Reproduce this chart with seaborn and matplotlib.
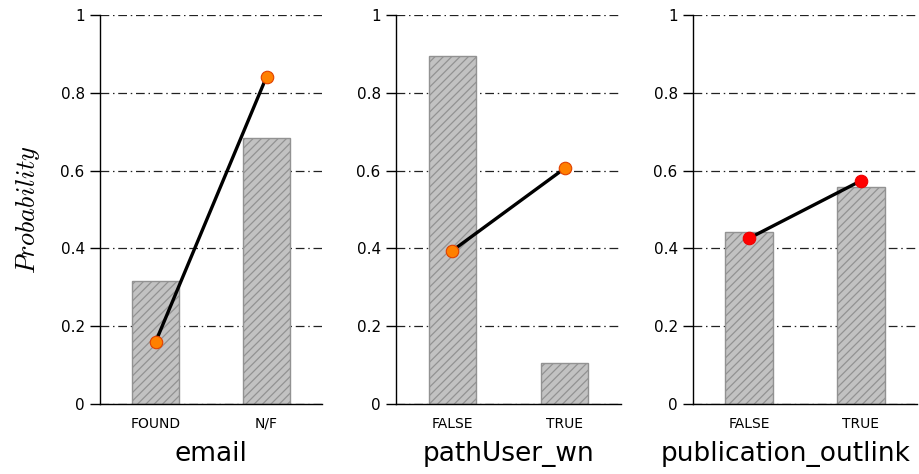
import matplotlib
matplotlib.use("Agg")
import matplotlib.pyplot as plt
import seaborn as sns
import pandas as pd

# Per-variable categories, bar probabilities and point probabilities
variables = ["email", "pathUser_wn", "publication_outlink"]
categories = [["FOUND", "N/F"], ["FALSE", "TRUE"], ["FALSE", "TRUE"]]
bar_values = [[0.316, 0.684], [0.895, 0.105], [0.442, 0.558]]
point_values = [[0.159, 0.841], [0.394, 0.606], [0.426, 0.574]]
point_faces = ["#ff8000", "#ff8000", "#ff0000"]
point_edges = ["#e04000", "#e04000", "#ee0000"]

yticks = [0, 0.2, 0.4, 0.6, 0.8, 1]
ytick_labels = ["0", "0.2", "0.4", "0.6", "0.8", "1"]

sns.set_style("white")
plt.rcParams["mathtext.fontset"] = "cm"
plt.rcParams["hatch.linewidth"] = 0.9
for key in ["text.color", "axes.labelcolor", "xtick.color", "ytick.color"]:
    plt.rcParams[key] = "black"

fig = plt.figure(figsize=(9.19, 4.74), dpi=100)
W, H = 919.0, 474.0
lefts = [100, 396, 693]
widths = [222, 225, 224]
label_x = [0.5, 0.5, 0.415]
y0_px, y1_px = 404, 15

for i, var in enumerate(variables):
    ax = fig.add_axes([lefts[i] / W, (H - y0_px) / H, widths[i] / W, (y0_px - y1_px) / H])
    df = pd.DataFrame({"cat": categories[i], "bar": bar_values[i], "pt": point_values[i]})

    sns.barplot(data=df, x="cat", y="bar", order=categories[i], ax=ax,
                color="#c2c2c2", width=0.42, edgecolor="#929292", linewidth=1.0,
                hatch="////", saturation=1, errorbar=None, zorder=2)
    for p in ax.patches:
        p.set_facecolor("#c2c2c2")

    sns.pointplot(data=df, x="cat", y="pt", order=categories[i], ax=ax,
                  color="black", errorbar=None, linewidth=2.4,
                  markersize=9, markerfacecolor=point_faces[i],
                  markeredgecolor=point_edges[i], markeredgewidth=0.8)
    for ln in ax.lines:
        ln.set_zorder(4)

    ax.set_xlim(-0.5, 1.5)
    ax.set_ylim(0, 1)
    ax.set_yticks(yticks)
    ax.set_yticklabels(ytick_labels, fontsize=11)
    ax.set_xticks([0, 1])
    ax.set_xticklabels(categories[i], fontsize=10)
    ax.tick_params(axis="x", which="major", length=0, pad=9)
    ax.set_xticks([-0.5, 0.5, 1.5], minor=True)
    ax.tick_params(axis="x", which="minor", length=8, width=1, direction="out", color="black")
    ax.tick_params(axis="y", length=7, width=1, direction="out", color="black", pad=4,
                   left=True)

    ax.yaxis.grid(True, color="#222222", linewidth=0.9, linestyle=(0, (7, 3, 1.2, 3)))
    ax.xaxis.grid(False)
    ax.set_axisbelow(True)

    for s in ["top", "right"]:
        ax.spines[s].set_visible(False)
    for s in ["left", "bottom"]:
        ax.spines[s].set_color("black")
        ax.spines[s].set_linewidth(1.0)

    ax.set_xlabel(var, fontsize=19)
    ax.xaxis.set_label_coords(label_x[i], -0.095, transform=ax.transAxes)
    ax.xaxis.label.set_va("top")
    ax.set_ylabel("")

fig.text(28 / W, 1 - 210 / H, r"$Probability$", rotation=90, fontsize=19,
         ha="center", va="center")

fig.savefig("out.png", dpi=100)
